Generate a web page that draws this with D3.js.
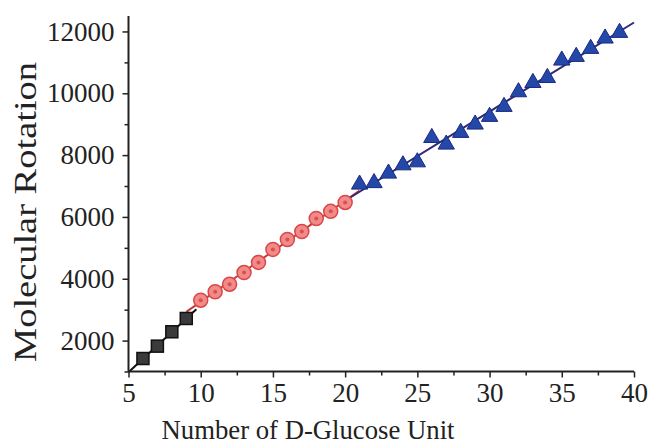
<!DOCTYPE html>
<html>
<head>
<meta charset="utf-8">
<script src="https://cdn.jsdelivr.net/npm/d3@7"></script>
<style>
  body { margin: 0; background: #fff; }
  svg text { font-family: "Liberation Serif", "Times New Roman", serif; fill: #222; }
</style>
</head>
<body>
<svg id="drawing_region"></svg>
<script>
// data
const squareX = [6, 7, 8, 9];
const squareY = [1420, 1820, 2285, 2715];

const circleX = [10, 11, 12, 13, 14, 15, 16, 17, 18, 19, 20];
const circleY = [3307, 3580, 3825, 4200, 4530, 4950, 5270, 5530, 5950, 6180, 6470];

const triX = [21, 22, 23, 24, 25, 26, 27, 28, 29, 30, 31, 32, 33, 34, 35, 36, 37, 38, 39];
const triY = [7052, 7100, 7408, 7676, 7773, 8560, 8346, 8725, 8994, 9243, 9566,
              10040, 10340, 10500, 11065, 11184, 11443, 11777, 11960];

// x extent of each fitted line
const fitExtents = [[5, 9.7], [9, 21], [20.3, 40]];

const xTicks = [5, 10, 15, 20, 25, 30, 35, 40];
const yTicks = [2000, 4000, 6000, 8000, 10000, 12000];

const config = {
    width: 651,
    height: 448,
    left: 128.5, right: 634,
    top: 16, bottom: 371.5
};

const svg = d3.select('#drawing_region')
    .attr('width', config.width)
    .attr('height', config.height);

const xscale = d3.scaleLinear().domain([5, 40]).range([config.left, config.right]);
const yscale = d3.scaleLinear().domain([1000, 12500]).range([config.bottom, config.top]);

// least squares line through a series
function fit(xs, ys) {
    const mx = d3.mean(xs), my = d3.mean(ys);
    let sxy = 0, sxx = 0;
    xs.forEach((x, i) => { sxy += (x - mx) * (ys[i] - my); sxx += (x - mx) * (x - mx); });
    const b = sxy / sxx;
    return x => my + b * (x - mx);
}

const series = [
    { xs: squareX, ys: squareY, ext: fitExtents[0], line: '#111111' },
    { xs: circleX, ys: circleY, ext: fitExtents[1], line: '#c83838' },
    { xs: triX, ys: triY, ext: fitExtents[2], line: '#2e2a78' }
];

const lineGen = d3.line().x(d => xscale(d[0])).y(d => yscale(d[1]));

series.forEach(s => {
    const f = fit(s.xs, s.ys);
    svg.append('path')
        .datum(s.ext.map(x => [x, f(x)]))
        .attr('d', lineGen)
        .attr('fill', 'none')
        .attr('stroke', s.line)
        .attr('stroke-width', 2);
});

// axes
const xaxis = d3.axisBottom(xscale).tickValues(xTicks).tickSize(6).tickPadding(5).tickFormat(d3.format('d'));
const xminor = d3.axisBottom(xscale).tickValues(d3.range(7.5, 40, 5)).tickSize(4).tickFormat('');
const yaxis = d3.axisLeft(yscale).tickValues(yTicks).tickSize(6).tickPadding(8).tickFormat(d3.format('d'));
const yminor = d3.axisLeft(yscale).tickValues(d3.range(1000, 12500, 2000)).tickSize(4).tickFormat('');

function styleAxis(g) {
    g.attr('font-family', '"Liberation Serif", serif');
    g.select('.domain').attr('stroke', '#222').attr('stroke-width', 2);
    g.selectAll('line').attr('stroke', '#222').attr('stroke-width', 1.5);
    g.selectAll('text').attr('font-size', '27px').attr('fill', '#222');
}

svg.append('g').attr('transform', `translate(0, ${config.bottom})`).call(xminor).call(styleAxis)
    .select('.domain').remove();
svg.append('g').attr('transform', `translate(${config.left}, 0)`).call(yminor).call(styleAxis)
    .select('.domain').remove();
svg.append('g').attr('transform', `translate(0, ${config.bottom})`).call(xaxis).call(styleAxis)
    .select('.domain').attr('d', `M${config.left},0H${config.right}`);
svg.append('g').attr('transform', `translate(${config.left}, 0)`).call(yaxis).call(styleAxis)
    .select('.domain').attr('d', `M0,${config.top}V${config.bottom}`);

// markers
svg.append('g').selectAll('rect')
    .data(squareX.map((x, i) => [x, squareY[i]]))
    .enter().append('rect')
    .attr('x', d => xscale(d[0]) - 6)
    .attr('y', d => yscale(d[1]) - 6)
    .attr('width', 12).attr('height', 12)
    .attr('fill', '#3a3a3a')
    .attr('stroke', '#111')
    .attr('stroke-width', 1.5);

const circ = svg.append('g').selectAll('g')
    .data(circleX.map((x, i) => [x, circleY[i]]))
    .enter().append('g')
    .attr('transform', d => `translate(${xscale(d[0])}, ${yscale(d[1])})`);
circ.append('circle').attr('r', 7)
    .attr('fill', '#f28a8a').attr('stroke', '#d84848').attr('stroke-width', 1.5);
circ.append('circle').attr('r', 2).attr('fill', '#d85050');

const tri = d3.symbol().type(d3.symbolTriangle).size(115);
svg.append('g').selectAll('path')
    .data(triX.map((x, i) => [x, triY[i]]))
    .enter().append('path')
    .attr('d', tri)
    .attr('transform', d => `translate(${xscale(d[0])}, ${yscale(d[1])})`)
    .attr('fill', '#2348a8')
    .attr('stroke', '#1a2a80')
    .attr('stroke-width', 1);

// axis titles
svg.append('text')
    .text('Number of D-Glucose Unit')
    .attr('x', 308)
    .attr('y', 439)
    .attr('text-anchor', 'middle')
    .attr('font-family', '"Liberation Serif", serif')
    .attr('font-size', '28px')
    .attr('textLength', 293)
    .attr('lengthAdjust', 'spacingAndGlyphs');

svg.append('text')
    .text('Molecular Rotation')
    .attr('transform', `translate(36, 212) rotate(-90)`)
    .attr('text-anchor', 'middle')
    .attr('font-family', '"Liberation Serif", serif')
    .attr('font-size', '32px')
    .attr('textLength', 300)
    .attr('lengthAdjust', 'spacingAndGlyphs');
</script>
</body>
</html>
